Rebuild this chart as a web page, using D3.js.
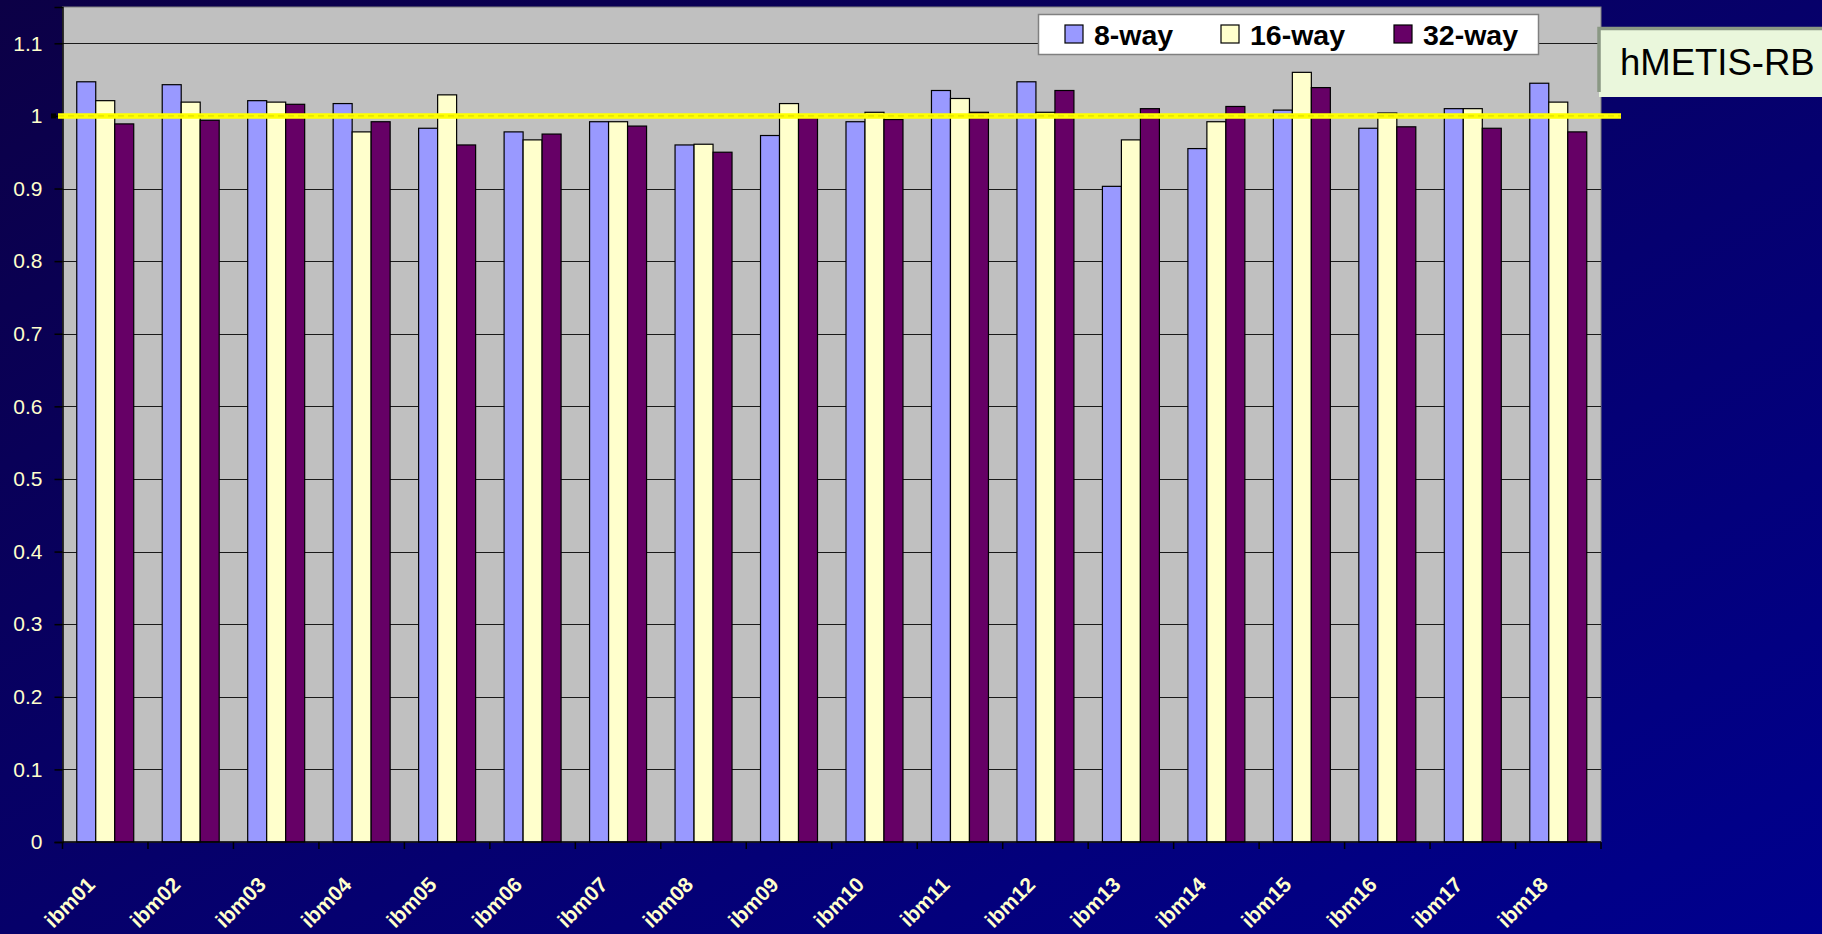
<!DOCTYPE html>
<html>
<head>
<meta charset="utf-8">
<script src="https://cdn.jsdelivr.net/npm/d3@7"></script>
<style>
  html, body { margin: 0; padding: 0; background: #06006a; }
  svg { display: block; }
</style>
</head>
<body>
<svg id="chart" width="1822" height="934"></svg>
<script>
// Benchmarks and the ratio for each partition count
const categories = ["ibm01","ibm02","ibm03","ibm04","ibm05","ibm06","ibm07","ibm08","ibm09",
                    "ibm10","ibm11","ibm12","ibm13","ibm14","ibm15","ibm16","ibm17","ibm18"];
const seriesNames = ["8-way", "16-way", "32-way"];
const way8  = [1.047, 1.043, 1.021, 1.017, 0.983, 0.978, 0.992, 0.960, 0.973,
               0.992, 1.035, 1.047, 0.903, 0.955, 1.008, 0.983, 1.010, 1.045];
const way16 = [1.021, 1.019, 1.019, 0.978, 1.029, 0.967, 0.992, 0.961, 1.017,
               1.005, 1.024, 1.005, 0.967, 0.992, 1.060, 1.004, 1.010, 1.019];
const way32 = [0.989, 0.994, 1.016, 0.992, 0.960, 0.975, 0.986, 0.950, 0.999,
               0.995, 1.005, 1.035, 1.010, 1.013, 1.039, 0.985, 0.983, 0.978];
const yTicks = [0, 0.1, 0.2, 0.3, 0.4, 0.5, 0.6, 0.7, 0.8, 0.9, 1, 1.1];
const yMax = 1.15;
const referenceValue = 1;
const boxLabel = "hMETIS-RB";

const colors = ["#9999ff", "#ffffcc", "#660066"];
const seriesValues = [way8, way16, way32];

const svg = d3.select("#chart");
const W = 1822, H = 934;
const plot = { left: 62.5, right: 1601, top: 7, bottom: 842 };

// Background gradient
const defs = svg.append("defs");
const grad = defs.append("linearGradient").attr("id", "bg")
  .attr("x1", "0").attr("y1", "0").attr("x2", "1").attr("y2", "1");
grad.append("stop").attr("offset", "0%").attr("stop-color", "#0c0046");
grad.append("stop").attr("offset", "100%").attr("stop-color", "#00008e");
svg.append("rect").attr("width", W).attr("height", H).attr("fill", "url(#bg)");

// Scales
const x = d3.scaleBand().domain(categories).range([plot.left, plot.right]).padding(0);
const gapFrac = 1.5 / 4.5;
const xs = d3.scaleBand().domain(seriesNames)
  .range([x.bandwidth() * gapFrac / 2, x.bandwidth() * (1 - gapFrac / 2)]).padding(0);
const y = d3.scaleLinear().domain([0, yMax]).range([plot.bottom, plot.top]);

// Plot area
svg.append("rect")
  .attr("x", plot.left).attr("y", plot.top)
  .attr("width", plot.right - plot.left).attr("height", plot.bottom - plot.top)
  .attr("fill", "#c0c0c0").attr("stroke", "#808080").attr("stroke-width", 1);

// Horizontal gridlines
svg.append("g").selectAll("line").data(yTicks.filter(d => d > 0)).join("line")
  .attr("x1", plot.left).attr("x2", plot.right)
  .attr("y1", d => Math.round(y(d)) + 0.5).attr("y2", d => Math.round(y(d)) + 0.5)
  .attr("stroke", "#1a1a1a").attr("stroke-width", 1);

// Bars
const groups = svg.append("g").selectAll("g").data(categories).join("g")
  .attr("transform", d => `translate(${x(d)},0)`);
groups.selectAll("rect")
  .data((d, i) => seriesNames.map((s, j) => ({ s, j, v: seriesValues[j][i] })))
  .join("rect")
  .attr("x", d => xs(d.s))
  .attr("width", xs.bandwidth())
  .attr("y", d => y(d.v))
  .attr("height", d => y(0) - y(d.v))
  .attr("fill", d => colors[d.j])
  .attr("stroke", "#000").attr("stroke-width", 1.2);

// Y axis
const yAxis = d3.axisLeft(y).tickValues(yTicks).tickSize(8).tickPadding(12)
  .tickFormat(d => d3.format("")(+d.toFixed(1)));
const gy = svg.append("g").attr("transform", `translate(${plot.left},0)`).call(yAxis);
gy.select(".domain").attr("stroke", "#000").attr("stroke-width", 1.5);
gy.selectAll(".tick line").attr("stroke", "#000").attr("stroke-width", 1.5);
gy.selectAll(".tick text")
  .attr("fill", "#ffffcc")
  .style("font-family", "'Liberation Sans', Arial, sans-serif")
  .style("font-size", "21px");

// X axis: ticks at category boundaries, rotated labels
const boundaries = categories.map(c => x(c)).concat([plot.right]);
svg.append("line")
  .attr("x1", plot.left).attr("x2", plot.right)
  .attr("y1", plot.bottom).attr("y2", plot.bottom)
  .attr("stroke", "#000").attr("stroke-width", 1.5);
svg.append("g").selectAll("line").data(boundaries).join("line")
  .attr("x1", d => d).attr("x2", d => d)
  .attr("y1", plot.bottom).attr("y2", plot.bottom + 7)
  .attr("stroke", "#000").attr("stroke-width", 1.5);
svg.append("g").selectAll("text").data(categories).join("text")
  .attr("transform", d => `translate(${x(d) + x.bandwidth() / 2 - 9},${plot.bottom + 44}) rotate(-45)`)
  .attr("text-anchor", "end")
  .attr("fill", "#ffffcc")
  .style("font-family", "'Liberation Sans', Arial, sans-serif")
  .style("font-weight", "bold")
  .style("font-size", "21px")
  .text(d => d);

// Reference line at 1
const yRef = y(referenceValue);
svg.append("line")
  .attr("x1", 58).attr("x2", 1621).attr("y1", yRef).attr("y2", yRef)
  .attr("stroke", "#ffff00").attr("stroke-width", 5.5);
svg.append("line")
  .attr("x1", 58).attr("x2", 1621).attr("y1", yRef).attr("y2", yRef)
  .attr("stroke", "#d6d600").attr("stroke-width", 1).attr("stroke-dasharray", "6,4");
svg.append("rect")
  .attr("x", 51).attr("y", yRef - 2.5).attr("width", 5).attr("height", 5)
  .attr("fill", "#000");

// Legend
const legend = svg.append("g");
legend.append("rect")
  .attr("x", 1038.5).attr("y", 14.5).attr("width", 500).attr("height", 40)
  .attr("fill", "#ffffff").attr("stroke", "#808080").attr("stroke-width", 1.5);
const legendX = [1065, 1221, 1394];
const li = legend.selectAll("g.item").data(seriesNames).join("g")
  .attr("class", "item")
  .attr("transform", (d, i) => `translate(${legendX[i]},25)`);
li.append("rect")
  .attr("width", 18).attr("height", 18)
  .attr("fill", (d, i) => colors[i]).attr("stroke", "#000").attr("stroke-width", 1.2);
li.append("text")
  .attr("x", 29).attr("y", 20)
  .attr("fill", "#000")
  .style("font-family", "'Liberation Sans', Arial, sans-serif")
  .style("font-weight", "bold")
  .style("font-size", "28.5px")
  .text(d => d);

// Method label box
const box = svg.append("g");
box.append("rect")
  .attr("x", 1599).attr("y", 28).attr("width", 240).attr("height", 69)
  .attr("fill", "#eaf7dc");
box.append("path")
  .attr("d", "M1599,92 L1599,28.5 L1830,28.5")
  .attr("fill", "none").attr("stroke", "#8a9884").attr("stroke-width", 3.5);
box.append("text")
  .attr("x", 1620).attr("y", 75)
  .attr("fill", "#000")
  .style("font-family", "'Liberation Sans', Arial, sans-serif")
  .style("font-size", "36.5px")
  .text(boxLabel);
</script>
</body>
</html>
